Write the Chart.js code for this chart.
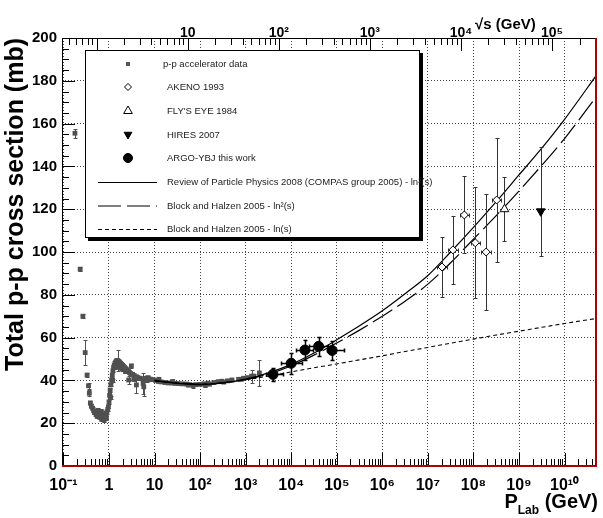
<!DOCTYPE html>
<html>
<head>
<meta charset="utf-8">
<script src="https://cdn.jsdelivr.net/npm/chart.js@4.4.0/dist/chart.umd.min.js"></script>
<style>
  html, body { margin: 0; padding: 0; background: #fff; }
  #wrap { width: 603px; height: 518px; }
</style>
</head>
<body>
<div id="wrap"><canvas id="chart" width="603" height="518"></canvas></div>
<script>
// p-p accelerator data: P_lab (GeV), total cross section (mb), error (mb)
var accP = [0.179, 0.233, 0.267, 0.30, 0.33, 0.355, 0.37, 0.39, 0.41, 0.435, 0.46, 0.48, 0.50, 0.52, 0.55, 0.57,
  0.58, 0.60, 0.62, 0.64, 0.66, 0.68, 0.69, 0.72, 0.74, 0.76, 0.78, 0.80, 0.83, 0.86, 0.88, 0.90, 0.94, 0.97,
  1.00, 1.03, 1.06, 1.08, 1.10, 1.14, 1.18, 1.20, 1.22, 1.26, 1.30, 1.35, 1.38, 1.40, 1.45, 1.50, 1.55, 1.60,
  1.65, 1.70, 1.80, 1.85, 1.90, 2.00, 2.05, 2.10, 2.20, 2.30, 2.35, 2.50, 2.65, 2.70, 2.80, 3.00, 3.10, 3.30,
  3.50, 3.60, 4.00, 4.00, 4.30, 4.70, 5.00, 5.60, 5.80, 6.20, 6.80, 7.20, 8.00, 9.30, 10.5, 12, 12.5, 14, 17,
  20, 24, 25, 28, 33, 40, 50, 55, 60, 70, 80, 100, 120, 130, 150, 160, 200, 250, 300, 330, 400, 500, 700, 800,
  900, 1100, 1350, 1500, 2000];
var accSigma = [155.5, 92, 70, 53, 42.5, 37.5, 34, 29.5, 28, 27, 25.8, 25, 25.4, 24, 23.2, 24.6,
  26, 24, 22.8, 23, 24.2, 25.5, 21.8, 22.6, 24, 23.8, 21.5, 22.5, 23.8, 24.6, 22.4, 25.3, 26.5, 27.7,
  30, 33, 35.5, 32, 38, 40.2, 42.5, 40, 44.5, 46, 47, 48, 46, 48.5, 49, 49.3, 49.2, 49,
  46.6, 48.6, 48, 45.8, 47.5, 47, 45, 46.4, 46, 44.2, 45.4, 44.8, 44.3, 40.2, 43.8, 43.2, 46.8, 42.8,
  40.5, 42.2, 41.7, 37.9, 41.3, 41, 40.8, 38.6, 37, 41, 40, 41.3, 40.6, 40.4, 40, 39.5, 40.5, 39.3, 39,
  38.8, 38.8, 39.5, 38.6, 38.5, 38.4, 38.3, 37.8, 38, 37.6, 38, 38.1, 38.4, 37.8, 38.7, 38.2, 39, 39.4, 39.6, 39.2, 39.8, 40.2, 40.5, 40.5,
  41, 41.3, 42, 42, 43.5];
var accErr = [2, 0.8, 0.8, 6, 1, 1.5, 1.5, 1, 1, 0.8, 0.8, 0.8, 0.8, 0.8, 0.8, 0.8,
  0.8, 0.8, 0.8, 0.8, 0.8, 0.8, 0.8, 0.8, 0.8, 0.8, 0.8, 0.8, 0.8, 0.8, 0.8, 0.8, 0.8, 0.8,
  0.8, 0.8, 0.8, 0.8, 0.8, 0.8, 0.8, 0.8, 0.8, 0.8, 0.8, 0.8, 0.8, 0.8, 0.8, 0.8, 5, 0.8,
  0.8, 0.8, 0.8, 0.8, 0.8, 0.8, 0.8, 0.8, 0.8, 0.8, 0.8, 0.8, 0.8, 2, 0.8, 0.8, 1, 0.8,
  0.8, 0.8, 0.8, 4, 0.8, 0.8, 0.8, 5, 4.5, 0.8, 0.8, 0.8, 0.8, 0.8, 0.6, 0.6, 0.6, 0.6, 0.6,
  0.6, 0.6, 0.6, 0.6, 0.6, 0.6, 0.6, 0.6, 0.6, 1, 0.6, 0.6, 0.6, 1, 0.6, 0.6, 0.6, 0.6, 0.6, 0.6, 0.6, 0.6, 0.6, 0.6,
  0.6, 0.8, 3, 1, 6];

// AKENO 1993
var akenoP = [2.04e7, 3.55e7, 6.3e7, 1.1e8, 1.9e8, 3.24e8];
var akenoSigma = [93, 101, 117.3, 104.3, 100, 124.3];
var akenoErr = [14, 16, 18, 26, 27, 29];
var akenoPLow = [1.6e7, 2.8e7, 5.0e7, 8.7e7, 1.5e8, 2.6e8];
var akenoPHigh = [2.6e7, 4.5e7, 7.9e7, 1.4e8, 2.4e8, 4.1e8];

// FLY'S EYE 1984
var flyP = [4.8e8];
var flySigma = [120];
var flyErr = [15];

// HIRES 2007
var hiresP = [3.0e9];
var hiresSigma = [119];
var hiresErrUp = [30];
var hiresErrDown = [21];

// ARGO-YBJ
var argoP = [3980, 1.0e4, 2.0e4, 4.0e4, 7.9e4];
var argoSigma = [42.8, 48, 54.2, 55.9, 54];
var argoErr = [3, 5, 4.5, 4.5, 4.5];
var argoPLow = [2800, 6000, 1.3e4, 2.5e4, 6.2e4];
var argoPHigh = [6500, 1.7e4, 3.0e4, 6.5e4, 1.45e5];

// model curves
var curveP = [10, 31.6, 100, 316, 1e3, 3.16e3, 1e4, 3.16e4, 1e5, 3.16e5, 1e6, 3.16e6, 1e7, 3.16e7, 1e8, 3.16e8, 1e9, 3.16e9, 1e10, 5.15e10];
var compasSigma = [39.8, 38.6, 38.0, 38.8, 40.6, 43.5, 47.5, 52.8, 59, 65.5, 72.5, 80.5, 89, 100, 111.5, 123.5, 136, 148.5, 162, 183];
var bhLn2Sigma = [40, 38.8, 38.2, 38.8, 40.4, 43, 46.8, 51.8, 57.5, 63.5, 70, 77, 85, 95, 106, 117, 128.5, 140.5, 153, 173];
var bhLnSigma = [39.8, 38.8, 38.2, 38.9, 40.3, 42, 44, 45.9, 47.7, 49.6, 51.5, 53.5, 55.4, 57.4, 59.3, 61.2, 63, 64.8, 66.6, 69];

// axes
var xMin = 0.093, xMax = 5.15e10;
var bottomTickValues = [0.1, 1, 10, 1e2, 1e3, 1e4, 1e5, 1e6, 1e7, 1e8, 1e9, 1e10];
var bottomTickLabels = ['10\u207B\u00B9', '1', '10', '10\u00B2', '10\u00B3', '10\u2074', '10\u2075', '10\u2076', '10\u2077', '10\u2078', '10\u2079', '10\u00B9\u2070'];
var topTickValues = [10, 1e2, 1e3, 1e4, 1e5];
var topTickLabels = ['10', '10\u00B2', '10\u00B3', '10\u2074', '10\u2075'];

var legendLabels = [
  'p-p accelerator data',
  'AKENO 1993',
  "FLY'S EYE 1984",
  'HIRES 2007',
  'ARGO-YBJ this work',
  'Review of Particle Physics 2008 (COMPAS group 2005) - ln\u00B2(s)',
  'Block and Halzen 2005 - ln\u00B2(s)',
  'Block and Halzen 2005 - ln(s)'
];

var FONT = '"Liberation Sans", Arial, Helvetica, sans-serif';

function pts(xs, ys) {
  return xs.map(function (x, i) { return { x: x, y: ys[i] }; });
}

var datasets = [
  { label: legendLabels[4], data: pts(argoP, argoSigma), pointStyle: 'circle', pointRadius: 5,
    backgroundColor: '#000', borderColor: '#000', borderWidth: 1,
    errLo: argoErr, errHi: argoErr, xLo: argoPLow, xHi: argoPHigh, errColor: '#000', errWidth: 1.5 },
  { label: legendLabels[3], data: pts(hiresP, hiresSigma), pointStyle: 'triangle', rotation: 180, pointRadius: 5,
    backgroundColor: '#000', borderColor: '#000', borderWidth: 1,
    errLo: hiresErrDown, errHi: hiresErrUp, errColor: '#333', errWidth: 1 },
  { label: legendLabels[2], data: pts(flyP, flySigma), pointStyle: 'triangle', pointRadius: 5,
    backgroundColor: '#fff', borderColor: '#000', borderWidth: 1,
    errLo: flyErr, errHi: flyErr, errColor: '#333', errWidth: 1 },
  { label: legendLabels[1], data: pts(akenoP, akenoSigma), pointStyle: 'rectRot', pointRadius: 4,
    backgroundColor: '#fff', borderColor: '#000', borderWidth: 1,
    errLo: akenoErr, errHi: akenoErr, xLo: akenoPLow, xHi: akenoPHigh, errColor: '#333', errWidth: 1 },
  { label: legendLabels[5], data: pts(curveP, compasSigma), showLine: true, pointRadius: 0,
    borderColor: '#000', borderWidth: 1.2, cubicInterpolationMode: 'monotone', fill: false },
  { label: legendLabels[6], data: pts(curveP, bhLn2Sigma), showLine: true, pointRadius: 0,
    borderColor: '#000', borderWidth: 1.2, borderDash: [23, 6], cubicInterpolationMode: 'monotone', fill: false },
  { label: legendLabels[7], data: pts(curveP, bhLnSigma), showLine: true, pointRadius: 0,
    borderColor: '#000', borderWidth: 1.1, borderDash: [4, 3], cubicInterpolationMode: 'monotone', fill: false },
  { label: legendLabels[0], data: pts(accP, accSigma), pointStyle: 'rect', pointRadius: 3.4,
    backgroundColor: '#505050', borderColor: '#505050', borderWidth: 0,
    errLo: accErr, errHi: accErr, errColor: '#505050', errWidth: 1 }
];

function drawErrors(chart, ds) {
  if (!ds.errLo && !ds.xLo) return;
  var ctx = chart.ctx, xs = chart.scales.x, ys = chart.scales.y, a = chart.chartArea;
  ctx.save();
  ctx.beginPath();
  ctx.rect(a.left, a.top, a.right - a.left, a.bottom - a.top);
  ctx.clip();
  ctx.strokeStyle = ds.errColor;
  ctx.lineWidth = ds.errWidth;
  ctx.beginPath();
  ds.data.forEach(function (p, i) {
    var px = Math.round(xs.getPixelForValue(p.x)) + 0.5;
    var py = Math.round(ys.getPixelForValue(p.y)) + 0.5;
    if (ds.errLo && (ds.errLo[i] > 0.7 || ds.errHi[i] > 0.7)) {
      var y1 = Math.round(ys.getPixelForValue(p.y + ds.errHi[i])) + 0.5;
      var y2 = Math.round(ys.getPixelForValue(p.y - ds.errLo[i])) + 0.5;
      ctx.moveTo(px, y1); ctx.lineTo(px, y2);
      ctx.moveTo(px - 2, y1); ctx.lineTo(px + 2, y1);
      ctx.moveTo(px - 2, y2); ctx.lineTo(px + 2, y2);
    }
    if (ds.xLo) {
      var x1 = Math.round(xs.getPixelForValue(ds.xLo[i])) + 0.5;
      var x2 = Math.round(xs.getPixelForValue(ds.xHi[i])) + 0.5;
      ctx.moveTo(x1, py); ctx.lineTo(x2, py);
      ctx.moveTo(x1, py - 2); ctx.lineTo(x1, py + 2);
      ctx.moveTo(x2, py - 2); ctx.lineTo(x2, py + 2);
    }
  });
  ctx.stroke();
  ctx.restore();
}

function drawTicksAndFrame(chart) {
  var ctx = chart.ctx, a = chart.chartArea;
  var xs = chart.scales.x, x2 = chart.scales.x2, ys = chart.scales.y;
  ctx.save();
  ctx.strokeStyle = '#000';
  ctx.lineWidth = 1;
  ctx.beginPath();
  var e, k, v, px;
  for (e = -2; e <= 11; e++) {
    for (k = 1; k <= 9; k++) {
      v = k * Math.pow(10, e);
      if (v >= xs.min && v <= xs.max) {
        px = Math.round(xs.getPixelForValue(v)) + 0.5;
        ctx.moveTo(px, a.bottom);
        ctx.lineTo(px, a.bottom - (k === 1 ? 13 : 7));
      }
      if (v >= x2.min && v <= x2.max) {
        px = Math.round(x2.getPixelForValue(v)) + 0.5;
        ctx.moveTo(px, a.top);
        ctx.lineTo(px, a.top + (k === 1 ? 13 : 7));
      }
    }
  }
  for (v = 0; v <= 200; v += 5) {
    var py = Math.round(ys.getPixelForValue(v)) + 0.5;
    ctx.moveTo(a.left, py);
    ctx.lineTo(a.left + (v % 20 === 0 ? 13 : 7), py);
  }
  ctx.stroke();
  // frame
  ctx.beginPath();
  ctx.moveTo(a.left + 0.5, a.bottom);
  ctx.lineTo(a.left + 0.5, a.top + 0.5);
  ctx.lineTo(a.right, a.top + 0.5);
  ctx.stroke();
  ctx.strokeStyle = '#b00000';
  ctx.lineWidth = 2;
  ctx.beginPath();
  ctx.moveTo(a.left, a.bottom);
  ctx.lineTo(a.right - 1, a.bottom);
  ctx.lineTo(a.right - 1, a.top);
  ctx.stroke();
  ctx.restore();
}

function drawMarker(ctx, style, rot, r, fill, x, y) {
  ctx.fillStyle = fill;
  ctx.strokeStyle = '#000';
  ctx.lineWidth = 1;
  Chart.helpers.drawPoint(ctx, { pointStyle: style, rotation: rot, radius: r, borderWidth: 1 }, x, y);
}

function drawLegend(chart) {
  var ctx = chart.ctx;
  var L = 85, T = 50, R = 420, B = 238;
  ctx.save();
  ctx.fillStyle = '#000';
  ctx.fillRect(L + 3, T + 3, R - L, B - T);
  ctx.fillStyle = '#fff';
  ctx.fillRect(L, T, R - L, B - T);
  ctx.strokeStyle = '#000';
  ctx.lineWidth = 1;
  ctx.strokeRect(L + 0.5, T + 0.5, R - L - 1, B - T - 1);
  var rows = [64, 87, 111, 134.5, 158, 182, 205.5, 229];
  var mx = 128;
  ctx.fillStyle = '#555';
  ctx.fillRect(mx - 2, rows[0] - 2, 4, 4);
  drawMarker(ctx, 'rectRot', 0, 3.5, '#fff', mx, rows[1]);
  drawMarker(ctx, 'triangle', 0, 5, '#fff', mx, rows[2]);
  drawMarker(ctx, 'triangle', 180, 4.5, '#000', mx, rows[3]);
  drawMarker(ctx, 'circle', 0, 4.5, '#000', mx, rows[4]);
  var dashes = [[], [23, 6], [4, 3]];
  for (var i = 0; i < 3; i++) {
    ctx.setLineDash(dashes[i]);
    ctx.lineWidth = 1.2;
    ctx.beginPath();
    ctx.moveTo(98, rows[5 + i] + 0.5);
    ctx.lineTo(157, rows[5 + i] + 0.5);
    ctx.stroke();
  }
  ctx.setLineDash([]);
  ctx.fillStyle = '#222';
  ctx.font = '9.5px ' + FONT;
  ctx.textBaseline = 'middle';
  ctx.textAlign = 'left';
  legendLabels.forEach(function (t, j) {
    ctx.fillText(t, j === 0 ? 163 : 167, rows[j] + 0.5);
  });
  ctx.restore();
}

function drawTitles(chart) {
  var ctx = chart.ctx, a = chart.chartArea;
  ctx.save();
  ctx.fillStyle = '#000';
  ctx.textBaseline = 'alphabetic';
  ctx.textAlign = 'left';
  // P_Lab (GeV)
  var big = 'bold 20px ' + FONT, small = 'bold 12px ' + FONT;
  ctx.font = big;
  var wP = ctx.measureText('P').width;
  var wG = ctx.measureText(' (GeV)').width;
  ctx.font = small;
  var wL = ctx.measureText('Lab').width;
  var x0 = a.right + 1 - wP - wL - wG;
  ctx.font = big;
  ctx.fillText('P', x0, 508);
  ctx.font = small;
  ctx.fillText('Lab', x0 + wP, 514);
  ctx.font = big;
  ctx.fillText(' (GeV)', x0 + wP + wL, 508);
  // sqrt(s) (GeV)
  ctx.font = 'bold 15px ' + FONT;
  ctx.fillText('\u221As (GeV)', 475, 29);
  ctx.restore();
}

var decor = {
  id: 'decor',
  beforeDatasetDraw: function (chart, args) {
    drawErrors(chart, chart.data.datasets[args.index]);
  },
  afterDatasetsDraw: function (chart) {
    drawTicksAndFrame(chart);
    drawLegend(chart);
    drawTitles(chart);
  }
};

var tickFont = { family: FONT, size: 15, weight: 'bold' };

new Chart(document.getElementById('chart'), {
  type: 'scatter',
  data: { datasets: datasets },
  plugins: [decor],
  options: {
    responsive: false,
    animation: false,
    devicePixelRatio: 1,
    layout: { padding: { left: 0, right: 2, top: 0, bottom: 0 } },
    plugins: { legend: { display: false }, tooltip: { enabled: false } },
    scales: {
      x: {
        type: 'logarithmic', position: 'bottom', min: xMin, max: xMax, bounds: 'data',
        afterBuildTicks: function (s) { s.ticks = bottomTickValues.map(function (v) { return { value: v }; }); },
        afterFit: function (s) { s.height = 52; },
        ticks: {
          autoSkip: false, maxRotation: 0, padding: 10, color: '#000',
          font: { family: FONT, size: 16, weight: 'bold' },
          callback: function (v) { var i = bottomTickValues.indexOf(v); return i < 0 ? '' : bottomTickLabels[i]; }
        },
        grid: { color: '#444', lineWidth: 1, drawTicks: false },
        border: { display: false, dash: [1, 2] }
      },
      x2: {
        type: 'logarithmic', position: 'top', bounds: 'data',
        min: Math.sqrt(1.876 * xMin), max: Math.sqrt(1.876 * xMax),
        afterBuildTicks: function (s) { s.ticks = topTickValues.map(function (v) { return { value: v }; }); },
        afterFit: function (s) { s.height = 38; },
        ticks: {
          autoSkip: false, maxRotation: 0, padding: -4, color: '#000',
          font: { family: FONT, size: 14, weight: 'bold' },
          callback: function (v) { var i = topTickValues.indexOf(v); return i < 0 ? '' : topTickLabels[i]; }
        },
        grid: { display: false, drawTicks: false },
        border: { display: false }
      },
      y: {
        type: 'linear', position: 'left', min: 0, max: 200,
        afterFit: function (s) { s.width = 62; },
        ticks: { stepSize: 20, padding: 5, color: '#000', font: tickFont },
        grid: { color: '#444', lineWidth: 1, drawTicks: false },
        border: { display: false, dash: [1, 2] },
        title: {
          display: true, text: 'Total p-p cross section (mb)', align: 'end', color: '#000',
          font: { family: FONT, size: 25, weight: 'bold' }, padding: { top: 1, bottom: 0 }
        }
      }
    }
  }
});
</script>
</body>
</html>
